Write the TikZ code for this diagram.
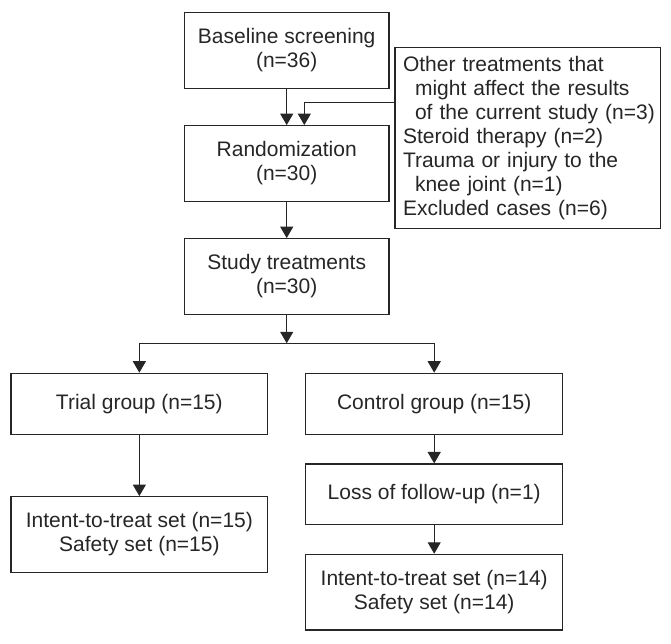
\documentclass[tikz,border=0pt]{standalone}
\usepackage{fontspec}
\setmainfont{Liberation Sans}
\usetikzlibrary{arrows.meta}
\definecolor{ink}{gray}{0.15}
\tikzset{
  box/.style={draw=ink, line width=1.2pt, text=ink, align=center, inner sep=0pt,
    font=\fontsize{21}{24}\selectfont},
  arr/.style={draw=ink, line width=1.2pt, -{Triangle[length=11.5pt,width=13pt]}},
  ln/.style={draw=ink, line width=1.2pt}
}
\begin{document}
\begin{tikzpicture}[x=1pt,y=-1pt]
\useasboundingbox (0,0) rectangle (671,644);
\node[box, minimum width=204.7pt, minimum height=76pt] (base) at (286.7,50.3) {Baseline screening\\(n=36)};
\node[box, minimum width=204.7pt, minimum height=75.6pt] (rand) at (286.7,163.5) {Randomization\\(n=30)};
\node[box, minimum width=204.7pt, minimum height=75.6pt] (study) at (286.7,276.5) {Study treatments\\(n=30)};
\node[box, align=left, text width=249.7pt, inner xsep=8pt, minimum height=181pt] (other) at (527.85,138.2)
  {\mbox{Other treatments that}\\
   \mbox{\hspace*{12pt}might affect the results}\\
   \mbox{\hspace*{12pt}of the current study (n=3)}\\
   \mbox{Steroid therapy (n=2)}\\
   \mbox{Trauma or injury to the}\\
   \mbox{\hspace*{12pt}knee joint (n=1)}\\
   \mbox{Excluded cases (n=6)}};
\node[box, minimum width=256.7pt, minimum height=61pt] (trial) at (139.35,403.8) {Trial group (n=15)};
\node[box, minimum width=256.7pt, minimum height=75.6pt] (ittl) at (139.35,534.5) {Intent-to-treat set (n=15)\\Safety set (n=15)};
\node[box, minimum width=257pt, minimum height=61pt] (control) at (434.2,403.8) {Control group (n=15)};
\node[box, minimum width=257pt, minimum height=60.3pt] (loss) at (434.2,494.2) {Loss of follow-up (n=1)};
\node[box, minimum width=257pt, minimum height=75.7pt] (ittr) at (434.2,592.2) {Intent-to-treat set (n=14)\\Safety set (n=14)};
\coordinate (oj) at (304.3,102.3);
\coordinate (split) at (286.7,343.3);
\draw[arr] (base) -- (rand);
\draw[arr] (other.west |- oj) -- (oj) -- (oj |- rand.north);
\draw[arr] (rand) -- (study);
\draw[arr] (study) -- (split);
\draw[arr] (split) -| (trial);
\draw[arr] (split) -| (control);
\draw[arr] (trial) -- (ittl);
\draw[arr] (control) -- (loss);
\draw[arr] (loss) -- (ittr);
\end{tikzpicture}
\end{document}
